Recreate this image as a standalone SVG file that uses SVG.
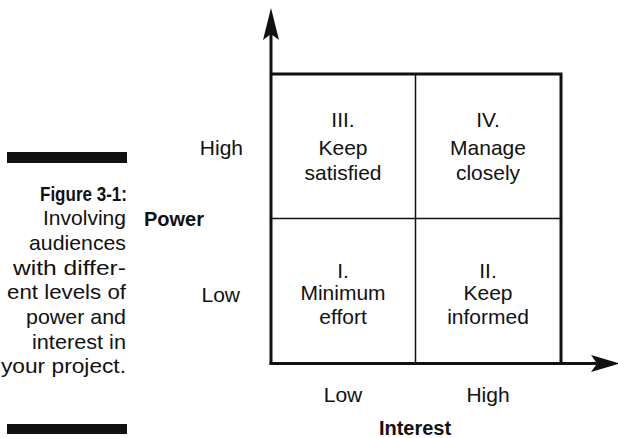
<svg xmlns="http://www.w3.org/2000/svg" width="618" height="438" viewBox="0 0 618 438">
<style>
text{font-family:"Liberation Sans",Arial,sans-serif;font-size:21px;fill:#111}
.b{font-weight:bold;font-size:20px}
.c{text-anchor:middle}
.e{text-anchor:end}
.thick{stroke:#111;stroke-width:3;fill:none}
.thin{stroke:#111;stroke-width:1.5;fill:none}
.head{fill:#111;stroke:none}
</style>
<rect width="618" height="438" fill="#fff"/>
<g id="caption">
<rect x="7" y="152" width="120" height="11" fill="#111"/>
<text class="e b" x="127" y="201" font-size="22" textLength="87" lengthAdjust="spacingAndGlyphs">Figure 3-1:</text>
<text class="e" x="126" y="225" textLength="83" lengthAdjust="spacingAndGlyphs">Involving</text>
<text class="e" x="126" y="250" textLength="97" lengthAdjust="spacingAndGlyphs">audiences</text>
<text class="e" x="126" y="275" textLength="113" lengthAdjust="spacingAndGlyphs">with differ-</text>
<text class="e" x="126" y="299" textLength="119" lengthAdjust="spacingAndGlyphs">ent levels of</text>
<text class="e" x="126" y="324" textLength="100" lengthAdjust="spacingAndGlyphs">power and</text>
<text class="e" x="126" y="349" textLength="94" lengthAdjust="spacingAndGlyphs">interest in</text>
<text class="e" x="126" y="373" textLength="125" lengthAdjust="spacingAndGlyphs">your project.</text>
<rect x="7" y="424" width="120" height="10" fill="#111"/>
</g>
<g id="connectors">
<path class="thick" d="M271,364 V34"/>
<path class="head" d="M271,8 L279,40 L271,34 L263,40 Z"/>
<path class="thick" d="M269.5,363.5 H598"/>
<path class="head" d="M620,363.5 L591,355 L597,363.5 L591,372 Z"/>
</g>
<g id="grid">
<path class="thick" d="M271,74 H561 V363.5"/>
<path class="thin" d="M415.5,74 V363"/>
<path class="thin" d="M271,218.5 H561"/>
</g>
<g id="q3">
<text class="c" x="343" y="127">III.</text>
<text class="c" x="343" y="155">Keep</text>
<text class="c" x="343" y="180">satisfied</text>
</g>
<g id="q4">
<text class="c" x="488" y="127">IV.</text>
<text class="c" x="488" y="155">Manage</text>
<text class="c" x="488" y="180">closely</text>
</g>
<g id="q1">
<text class="c" x="343" y="278">I.</text>
<text class="c" x="343" y="300">Minimum</text>
<text class="c" x="343" y="323.5">effort</text>
</g>
<g id="q2">
<text class="c" x="488" y="278">II.</text>
<text class="c" x="488" y="300">Keep</text>
<text class="c" x="488" y="323.5">informed</text>
</g>
<g id="power-axis">
<text class="e" x="243" y="155">High</text>
<text class="b" x="144" y="226">Power</text>
<text class="e" x="240" y="302">Low</text>
</g>
<g id="interest-axis">
<text class="c" x="343" y="402">Low</text>
<text class="c" x="488" y="402">High</text>
<text class="c b" x="415" y="435">Interest</text>
</g>
</svg>
